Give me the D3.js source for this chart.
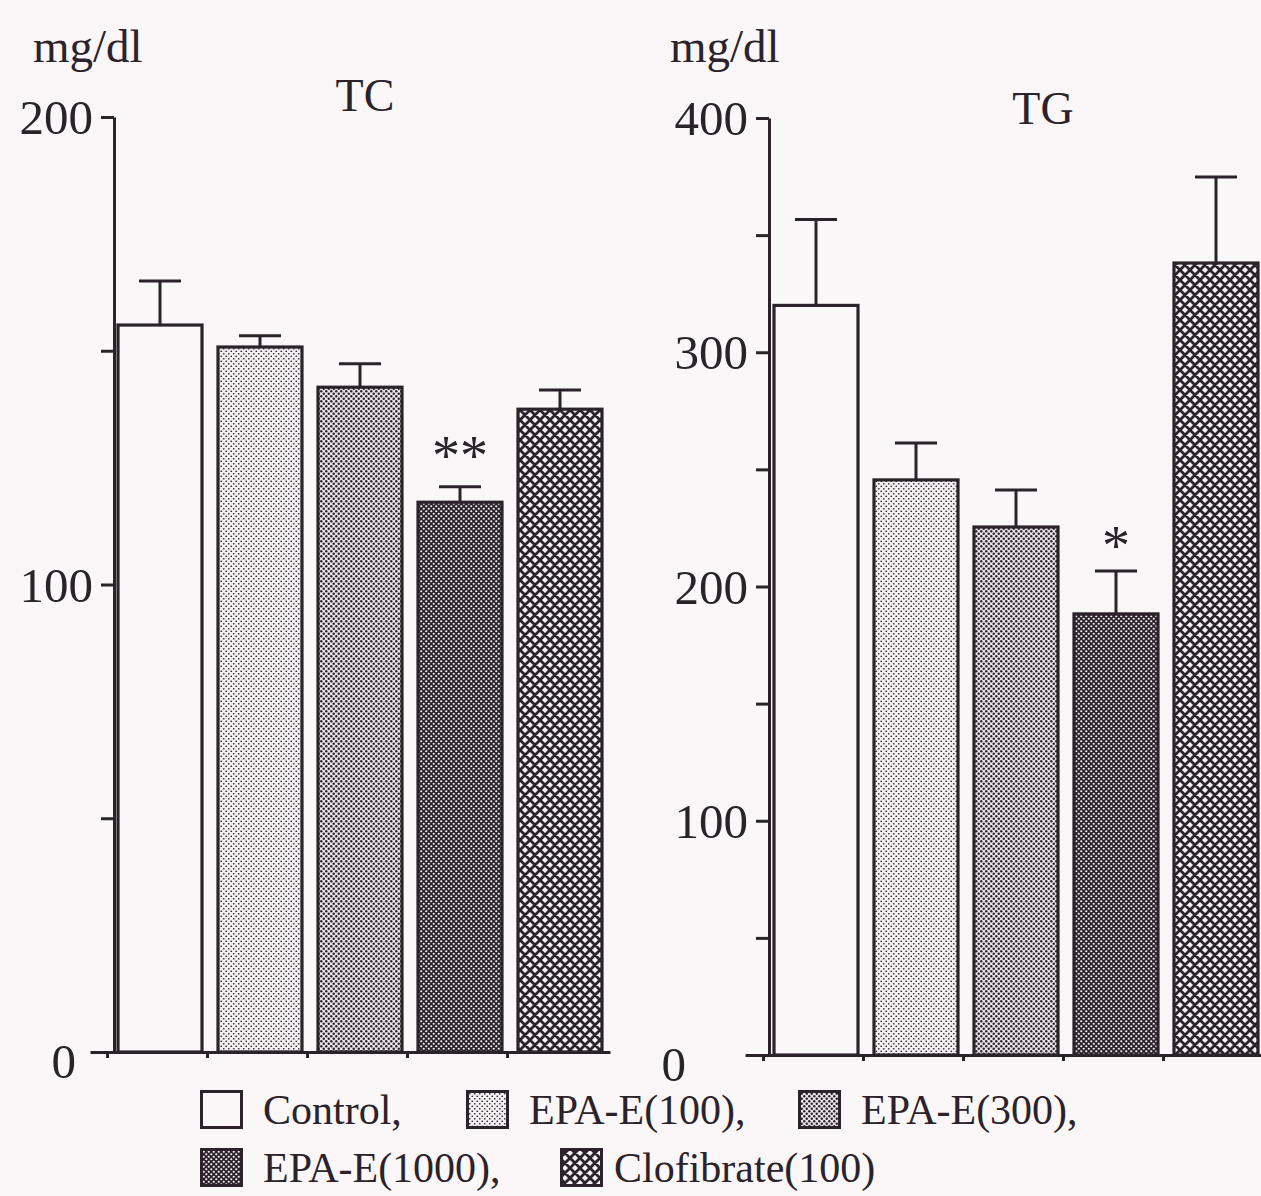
<!DOCTYPE html>
<html>
<head>
<meta charset="utf-8">
<script src="https://cdn.jsdelivr.net/npm/d3@7"></script>
<style>
  html, body { margin: 0; padding: 0; background: #fbf7f8; }
  svg { display: block; }
  text { font-family: "Liberation Serif", "Times New Roman", serif; fill: #2b2329; }
</style>
</head>
<body>
<svg id="chart" width="1261" height="1196"></svg>
<script>
// groups & values
const groups = ["Control", "EPA-E(100)", "EPA-E(300)", "EPA-E(1000)", "Clofibrate(100)"];
const legendLabels = ["Control,", "EPA-E(100),", "EPA-E(300),", "EPA-E(1000),", "Clofibrate(100)"];

const tcMean = [155.5, 150.8, 142.2, 117.6, 137.5];
const tcSE   = [9.4, 2.4, 5.0, 3.3, 4.1];
const tcStars = ["", "", "", "**", ""];
const tcTicks = [0, 50, 100, 150, 200];

const tgMean = [320.0, 245.5, 225.4, 188.3, 338.1];
const tgSE   = [36.7, 15.8, 15.8, 18.3, 36.7];
const tgStars = ["", "", "", "*", ""];
const tgTicks = [0, 50, 100, 150, 200, 250, 300, 350, 400];

const ink = "#2b2329";
const fills = ["#fbf7f8", "url(#p100)", "url(#p300)", "url(#p1000)", "url(#pclo)"];

const svg = d3.select("#chart");

svg.append("rect")
  .attr("width", 1261).attr("height", 1196)
  .attr("fill", "#fbf7f8");

// patterns
const defs = svg.append("defs");

function dots(id, bg, dot, r) {
  const p = defs.append("pattern")
    .attr("id", id)
    .attr("patternUnits", "userSpaceOnUse")
    .attr("width", 5).attr("height", 5);
  p.append("rect").attr("width", 5).attr("height", 5).attr("fill", bg);
  [[1.25, 1.25], [3.75, 3.75]].forEach(c => {
    p.append("circle").attr("cx", c[0]).attr("cy", c[1]).attr("r", r).attr("fill", dot);
  });
}
dots("p100", "#f4eff1", ink, 0.85);
dots("p300", "#e9e3e6", ink, 1.2);
dots("p1000", ink, "#f4eff1", 1.1);

const clo = defs.append("pattern")
  .attr("id", "pclo")
  .attr("patternUnits", "userSpaceOnUse")
  .attr("width", 10).attr("height", 10);
clo.append("rect").attr("width", 10).attr("height", 10).attr("fill", "#f7f2f4");
clo.append("path")
  .attr("d", "M0,0L10,10M10,0L0,10M-5,5L5,15M5,-5L15,5M-5,5L5,-5M5,15L15,5")
  .attr("stroke", ink).attr("stroke-width", 2.8);

// one panel
function drawPanel(opt) {
  const g = svg.append("g");

  const y = d3.scaleLinear().domain([0, opt.max]).range([opt.y0, opt.y1]);
  const x = d3.scaleBand().domain(groups)
    .range([opt.x0, opt.x0 + 500])
    .paddingInner(0.16).paddingOuter(0.08);
  // band edges for x-axis ticks
  const xe = d3.scaleLinear().domain([opt.e0, 5]).range([opt.xa0, opt.x0 + 500]);

  // y axis
  const ya = g.append("g")
    .attr("transform", `translate(${opt.ax},0)`)
    .call(d3.axisLeft(y).tickValues(opt.ticks).tickSize(13).tickSizeOuter(0)
      .tickFormat(d => d % 100 === 0 ? d : ""));
  ya.select(".domain").attr("stroke", ink).attr("stroke-width", 3);
  ya.selectAll(".tick line").attr("stroke", ink).attr("stroke-width", 3);
  ya.selectAll(".tick text")
    .attr("x", -21)
    .style("font-family", "Liberation Serif, serif")
    .style("font-size", "49px")
    .attr("fill", ink)
    .attr("dy", d => d === 0 ? "0.52em" : "0.34em")
    .attr("dx", d => d === 0 ? -opt.zeroShift : 0);

  // x axis
  const xa = g.append("g")
    .attr("transform", `translate(0,${opt.y0})`)
    .call(d3.axisBottom(xe).tickValues([0, 1, 2, 3, 4]).tickSize(6).tickSizeOuter(0)
      .tickFormat(""));
  xa.select(".domain").attr("stroke", ink).attr("stroke-width", 3);
  xa.selectAll(".tick line").attr("stroke", ink).attr("stroke-width", 3)
    .attr("transform", "translate(-3,0)");

  const data = groups.map((k, i) => ({ k, m: opt.mean[i], se: opt.se[i], s: opt.stars[i], f: fills[i] }));

  // error bars (upper only)
  const eb = g.selectAll(".eb").data(data).enter().append("g")
    .attr("stroke", ink).attr("stroke-width", 3);
  eb.append("line")
    .attr("x1", d => x(d.k) + x.bandwidth() / 2)
    .attr("x2", d => x(d.k) + x.bandwidth() / 2)
    .attr("y1", d => y(d.m))
    .attr("y2", d => y(d.m + d.se));
  eb.append("line")
    .attr("x1", d => x(d.k) + x.bandwidth() / 2 - 21)
    .attr("x2", d => x(d.k) + x.bandwidth() / 2 + 21)
    .attr("y1", d => y(d.m + d.se))
    .attr("y2", d => y(d.m + d.se));

  // bars
  g.selectAll(".bar").data(data).enter().append("rect")
    .attr("x", d => x(d.k))
    .attr("y", d => y(d.m))
    .attr("width", x.bandwidth())
    .attr("height", d => y(0) - y(d.m))
    .attr("fill", d => d.f)
    .attr("stroke", ink)
    .attr("stroke-width", 3.2);

  // significance marks
  g.selectAll(".star").data(data.filter(d => d.s)).enter().append("text")
    .attr("x", d => x(d.k) + x.bandwidth() / 2)
    .attr("y", d => y(d.m + d.se) - opt.starGap)
    .attr("text-anchor", "middle")
    .style("font-size", "56px")
    .text(d => d.s);

  // unit + title
  g.append("text")
    .attr("x", opt.unitX).attr("y", 62)
    .style("font-size", "47px")
    .text("mg/dl");
  g.append("text")
    .attr("x", opt.titleX).attr("y", opt.titleY)
    .attr("text-anchor", "middle")
    .style("font-size", "46px")
    .text(opt.title);
}

drawPanel({
  title: "TC", titleX: 365, titleY: 111, unitX: 33,
  mean: tcMean, se: tcSE, stars: tcStars, ticks: tcTicks, max: 200,
  y0: 1052, y1: 117, ax: 114, x0: 110, xa0: 90, e0: -0.2,
  zeroShift: 17, starGap: 12
});

drawPanel({
  title: "TG", titleX: 1043, titleY: 124, unitX: 670,
  mean: tgMean, se: tgSE, stars: tgStars, ticks: tgTicks, max: 400,
  y0: 1055, y1: 118, ax: 769, x0: 766, xa0: 745, e0: -0.21,
  zeroShift: 62, starGap: 6
});

// legend
const legendPos = [[200, 1090], [466, 1090], [798, 1090], [200, 1148], [560, 1148]];
const lg = svg.append("g");
const items = lg.selectAll(".lg").data(legendLabels).enter().append("g")
  .attr("transform", (d, i) => `translate(${legendPos[i][0]},${legendPos[i][1]})`);
items.append("rect")
  .attr("x", 1.5).attr("y", 1.5)
  .attr("width", 40).attr("height", 36)
  .attr("fill", (d, i) => fills[i])
  .attr("stroke", ink).attr("stroke-width", 3);
items.append("text")
  .attr("x", (d, i) => i === 4 ? 54 : 63).attr("y", 34)
  .style("font-size", "42px")
  .text(d => d);
</script>
</body>
</html>
